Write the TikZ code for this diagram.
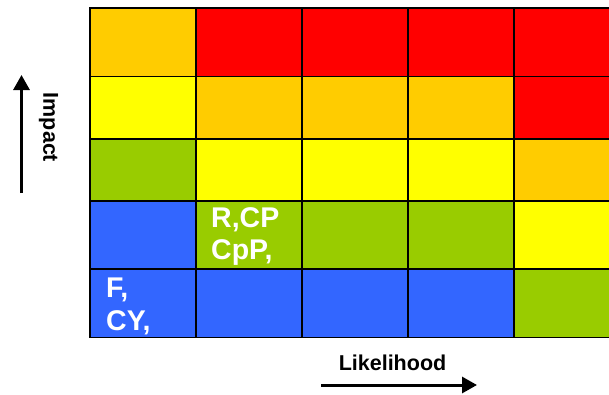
\documentclass[tikz,border=0pt]{standalone}
\usepackage{fontspec}
\setmainfont{Liberation Sans}
\usetikzlibrary{arrows.meta}
\definecolor{rorange}{HTML}{FFCC00}
\definecolor{rred}{HTML}{FF0000}
\definecolor{ryellow}{HTML}{FFFF00}
\definecolor{rgreen}{HTML}{99CC00}
\definecolor{rblue}{HTML}{3366FF}
\newcommand\riskrow[3]{\foreach \c [count=\i from 0] in {#3} \draw[cell,fill=\c] ({90+106*\i},#1) rectangle ({196+106*\i},#2);}
\begin{document}
\begin{tikzpicture}[x=1pt,y=-1pt,
  cell/.style={draw=black,line width=1.7pt},
  celltext/.style={text=white,font=\fontsize{28.5}{33}\selectfont\bfseries,anchor=base west,inner sep=0pt},
  axistext/.style={text=black,font=\fontsize{21.5}{25}\selectfont\bfseries,inner sep=0pt},
  axisarrow/.style={line width=3pt,-{Triangle[length=15pt,width=16pt]}}]
\useasboundingbox (0,0) rectangle (609,394);
\clip (0,0) rectangle (609,394);
\riskrow{8}{76.5}{rorange,rred,rred,rred,rred}
\riskrow{76.5}{139}{ryellow,rorange,rorange,rorange,rred}
\riskrow{139}{201}{rgreen,ryellow,ryellow,ryellow,rorange}
\riskrow{201}{269}{rblue,rgreen,rgreen,rgreen,ryellow}
\riskrow{269}{337.5}{rblue,rblue,rblue,rblue,rgreen}
\node[celltext] (rcp) at (211,227) {R,CP};
\node[celltext] (cpp) at (211,259) {CpP,};
\node[celltext] (f) at (106,297) {F,};
\node[celltext] (cy) at (106,330) {CY,};
\node[axistext,rotate=-90] (impact) at (48.5,127.5) {Impact};
\node[axistext,anchor=base] (likelihood) at (392.5,370) {Likelihood};
\coordinate (ia) at (21.5,193);
\coordinate (ib) at (21.5,75);
\coordinate (la) at (321,385);
\coordinate (lb) at (477,385);
\draw[axisarrow] (ia) -- (ib);
\draw[axisarrow] (la) -- (lb);
\end{tikzpicture}
\end{document}
